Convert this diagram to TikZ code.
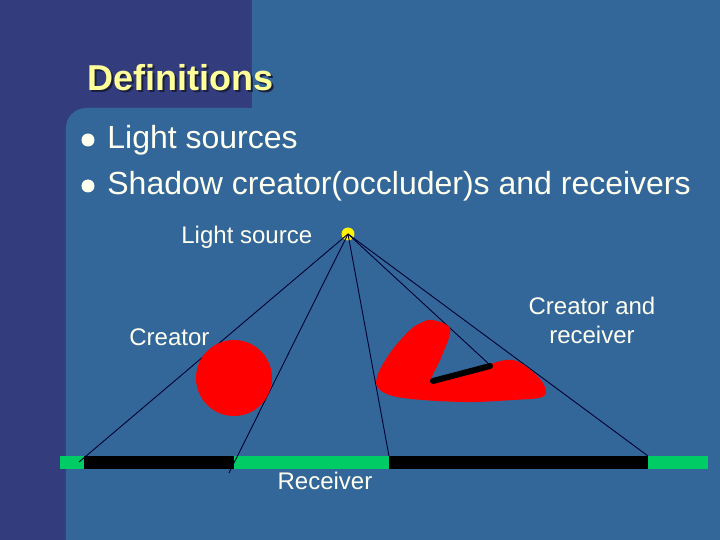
\documentclass[tikz,border=0pt]{standalone}
\usepackage{fontspec}
\setmainfont{Liberation Sans}
\usetikzlibrary{positioning}
\definecolor{darkbg}{RGB}{51,61,125}
\definecolor{slidebg}{RGB}{52,103,153}
\definecolor{titleyellow}{RGB}{255,255,153}
\definecolor{textwhite}{RGB}{255,255,240}
\definecolor{recgreen}{RGB}{0,204,102}
\definecolor{raycol}{RGB}{0,0,51}

\begin{document}
\begin{tikzpicture}[x=0.5pt,y=-0.5pt]
	\tikzset{ray/.style={draw=raycol, line width=0.45pt},
		lbl/.style={text=textwhite, font=\fontsize{12}{14.5}\selectfont, inner sep=0pt},
		itemtext/.style={anchor=base west, text=textwhite, font=\fontsize{16}{19}\selectfont, inner sep=0pt},
		bulletdot/.style={circle, fill=textwhite, minimum size=6.5pt, inner sep=0pt}}

	\useasboundingbox (0,0) rectangle (720,540);
	\fill[darkbg] (0,0) rectangle (720,540);
	\fill[slidebg] (66,540) [rounded corners=10pt] -- (66,108) [sharp corners] -- (252,108) -- (252,0) -- (720,0) -- (720,540) -- cycle;

	% title
	\node[anchor=base west, inner sep=0pt, text=darkbg!50!black, font=\bfseries\fontsize{18}{20}\selectfont] (titleshadow) at (89,93) {Definitions};
	\node[anchor=base west, inner sep=0pt, text=titleyellow, font=\bfseries\fontsize{18}{20}\selectfont] (title) at (87,91) {Definitions};

	% bullets
	\node[bulletdot] (dot1) at (88,140) {};
	\node[itemtext] (item1) at (107,149) {Light sources};
	\node[bulletdot] (dot2) at (88,186) {};
	\node[itemtext] (item2) at (107,195) {Shadow creator(occluder)s and receivers};

	% receiver
	\fill[recgreen] (60,456) rectangle (708,469);
	\foreach \a/\b in {84/234,389/648}{
		\fill[black] (\a,456) rectangle (\b,469);
	}

	\node[circle, fill=yellow, minimum size=6.5pt, inner sep=0pt] (light) at (348,234) {};
	\coordinate (r1) at (79,462);
	\coordinate (r2) at (229,473);
	\coordinate (r3) at (389,456);
	\coordinate (r4) at (490,365);
	\coordinate (r5) at (648,456);
	\foreach \p in {r1,r2,r3,r4,r5}{
		\draw[ray] (light.center) -- (\p);
	}

	% creators
	\node[circle, fill=red, minimum size=38pt, inner sep=0pt] (creator) at (234,378) {};
	\fill[red] plot[smooth cycle, tension=0.6] coordinates {(432,320) (447,325) (450,334) (441,358) (432,382) (462,373) (490,364) (513,360) (533,372) (545,387) (542,397) (513,400) (463,402) (403,398) (380,390) (377,377) (390,353) (410,330) (423,322)};
	\draw[line width=3pt, line cap=round] (433,381) -- (490,366);

	% labels
	\node[lbl, anchor=base west] (lightlbl) at (181,243.5) {Light source};
	\node[lbl, anchor=base west] (creatorlbl) at (129,345.5) {Creator};
	\node[lbl, align=center, anchor=north] (bothlbl) at (592,297) {Creator and\\receiver};
	\node[lbl, anchor=base] (receiverlbl) at (325,489.5) {Receiver};
\end{tikzpicture}
\end{document}
